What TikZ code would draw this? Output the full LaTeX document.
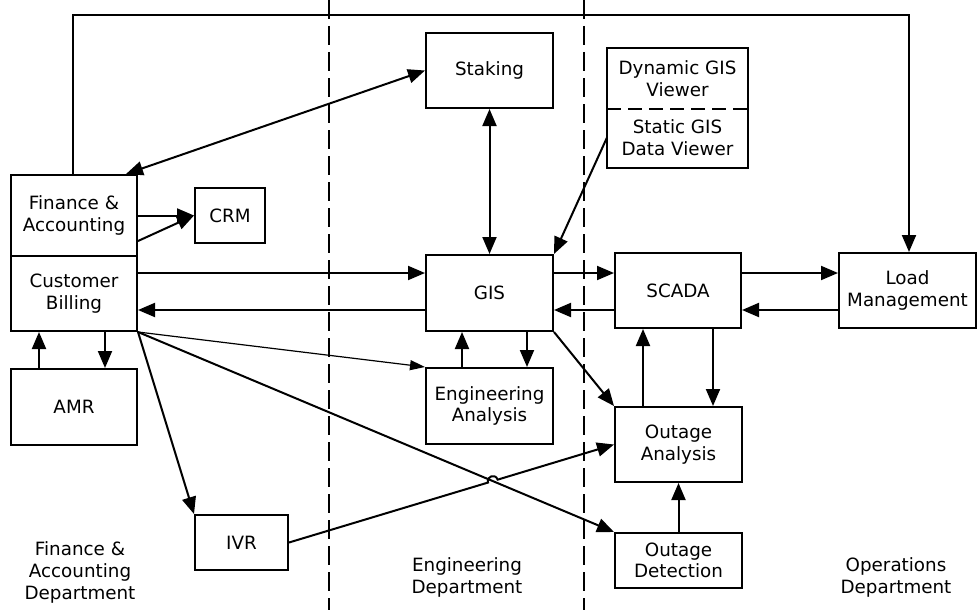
\documentclass[tikz,border=0pt]{standalone}
\usepackage{fontspec}
\setmainfont{DejaVu Sans}
\usetikzlibrary{arrows.meta,calc}

\tikzset{
  box/.style={draw, line width=2pt, inner sep=0pt, align=center,
    font=\fontsize{18.3}{21.5}\selectfont},
  conn/.style={line width=2pt},
  arr/.style={conn, -{Triangle[length=17pt,width=14pt]}},
  dbl/.style={conn, {Triangle[length=17pt,width=14pt]}-{Triangle[length=17pt,width=14pt]}},
  thinarr/.style={line width=1.2pt, -{Triangle[length=15pt,width=10pt]}},
  divider/.style={line width=1.1pt, dash pattern=on 19pt off 7pt},
  dept/.style={align=center, font=\fontsize{18.3}{22}\selectfont},
}

\begin{document}
\begin{tikzpicture}[x=1pt, y=-1pt]
\useasboundingbox (0,0) rectangle (977,610);

% department dividers
\draw[divider] (329,0) -- (329,610);
\draw[divider] (584,0) -- (584,610);

% systems
\node[box, minimum width=126pt, minimum height=81pt] (fin) at (74,215.5) {Finance \&\\Accounting};
\node[box, minimum width=126pt, minimum height=75pt] (cb)  at (74,293.5) {Customer\\Billing};
\node[box, minimum width=70pt,  minimum height=55pt] (crm) at (230,215.5) {CRM};
\node[box, minimum width=126pt, minimum height=76pt] (amr) at (74,407) {AMR};
\node[box, minimum width=93pt,  minimum height=55pt] (ivr) at (241.5,542.5) {IVR};
\node[box, minimum width=127pt, minimum height=75pt] (stk) at (489.5,70.5) {Staking};
\node[box, minimum width=127pt, minimum height=76pt] (gis) at (489.5,293) {GIS};
\node[box, minimum width=127pt, minimum height=76pt] (ea)  at (489.5,406) {Engineering\\Analysis};
% viewer pair: one frame split by a dashed line
\node[box, draw=none, minimum width=139pt, minimum height=59pt] (dyn) at (677.5,78.5) {Dynamic GIS\\Viewer};
\node[box, draw=none, minimum width=139pt, minimum height=59pt] (sta) at (677.5,137.5) {Static GIS\\Data Viewer};
\draw[line width=2pt] (dyn.north west) rectangle (sta.south east);
\draw[line width=2pt, dash pattern=on 14pt off 7pt] (dyn.south west) -- (dyn.south east);
\node[box, minimum width=126pt, minimum height=75pt] (scada) at (678,290.5) {SCADA};
\node[box, minimum width=137pt, minimum height=75pt] (lm) at (907.5,290.5) {Load\\Management};
\node[box, minimum width=127pt, minimum height=75pt] (oa) at (678.5,444.5) {Outage\\Analysis};
\node[box, minimum width=127pt, minimum height=55pt] (od) at (678.5,560.5) {Outage\\Detection};

% department labels
\node[dept] (dfin) at (80,572) {Finance \&\\Accounting\\Department};
\node[dept] (deng) at (467,577) {Engineering\\Department};
\node[dept] (dops) at (896,577) {Operations\\Department};

% Finance to Load Management over the top
\coordinate (topL) at (73,15);
\coordinate (topR) at (909,15);
\draw[arr] (fin.north -| topL) -- (topL) -- (topR) -- (topR |- lm.north);

% Staking links
\draw[dbl] (stk.west) -- ([xshift=-12pt]fin.north east);
\draw[dbl] (stk.south) -- (gis.north);
\draw[arr] (sta.west) -- (gis.north east);

% Finance / Billing to CRM
\draw[arr] (fin.east) -- (crm.west);
\draw[arr] ([yshift=14pt]cb.north east) -- (crm.west);

% Billing and GIS
\coordinate (yA) at (0,273);
\coordinate (yB) at (0,310);
\draw[arr] (cb.east |- yA) -- (gis.west |- yA);
\draw[arr] (gis.west |- yB) -- (cb.east |- yB);

% Billing fan-out
\draw[thinarr] (cb.south east) -- (ea.north west);
\draw[arr] (cb.south east) -- (od.north west);
\draw[arr] (cb.south east) -- (ivr.north west);

% AMR
\coordinate (xA) at (39,0);
\coordinate (xB) at (105,0);
\draw[arr] (amr.north -| xA) -- (cb.south -| xA);
\draw[arr] (cb.south -| xB) -- (amr.north -| xB);

% GIS and SCADA, SCADA and Load Management
\draw[arr] (gis.east |- yA) -- (scada.west |- yA);
\draw[arr] (scada.west |- yB) -- (gis.east |- yB);
\draw[arr] (scada.east |- yA) -- (lm.west |- yA);
\draw[arr] (lm.west |- yB) -- (scada.east |- yB);

% GIS and Engineering Analysis
\coordinate (xC) at (462,0);
\coordinate (xD) at (527,0);
\draw[arr] (ea.north -| xC) -- (gis.south -| xC);
\draw[arr] (gis.south -| xD) -- (ea.north -| xD);

% Outage flows
\draw[arr] (gis.south east) -- (oa.north west);
\coordinate (xE) at (643,0);
\coordinate (xF) at (713,0);
\draw[arr] (oa.north -| xE) -- (scada.south -| xE);
\draw[arr] (scada.south -| xF) -- (oa.north -| xF);
\draw[arr] (od.north) -- (oa.south);

% IVR to Outage Analysis, hopping over the Billing line
\coordinate (hop) at (intersection of ivr.east--oa.west and cb.south east--od.north west);
\draw[arr] (ivr.east) -- ($(hop)!5pt!(ivr.east)$)
  .. controls +(-1.9,-6.4) and +(-1.9,-6.4) .. ($(hop)!5pt!(oa.west)$) -- (oa.west);
\end{tikzpicture}
\end{document}
